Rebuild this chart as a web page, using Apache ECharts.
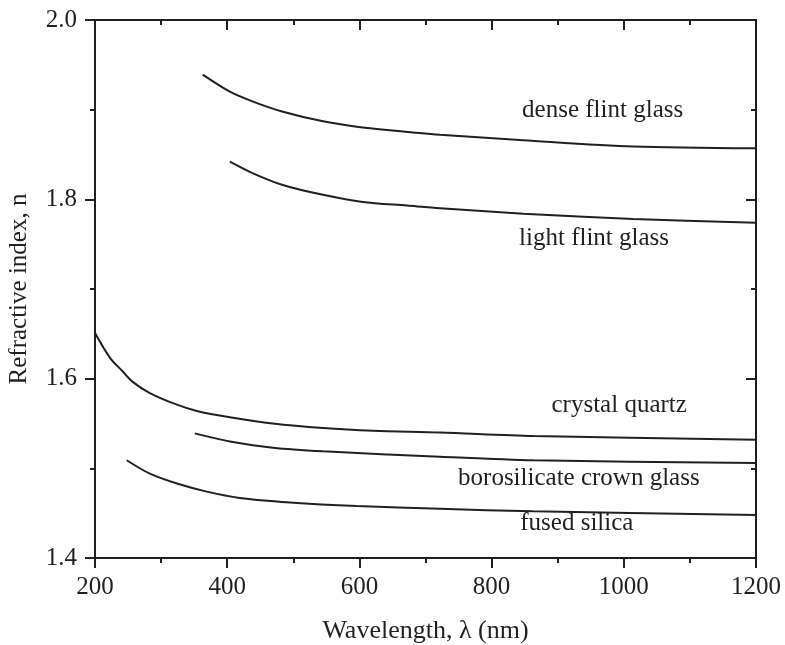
<!DOCTYPE html>
<html><head><meta charset="utf-8">
<script src="https://cdn.jsdelivr.net/npm/echarts@6/dist/echarts.min.js"></script>
<style>html,body{margin:0;padding:0;background:#fff}#c{width:785px;height:645px}</style>
</head><body><div id="c"></div>
<script>
const denseFlint = [[363,1.939],[404,1.920],[439,1.909],[483,1.898],[545,1.887],[596,1.881],[646,1.877],[722,1.872],[848,1.866],[1014,1.859],[1200,1.857]];
const lightFlint = [[404,1.842],[439,1.829],[484,1.816],[545,1.805],[605,1.797],[672,1.793],[722,1.790],[848,1.784],[1014,1.778],[1200,1.774]];
const crystalQuartz = [[200,1.651],[223,1.623],[242,1.608],[256,1.597],[283,1.584],[324,1.571],[354,1.564],[404,1.557],[469,1.550],[545,1.545],[621,1.542],[722,1.540],[863,1.536],[1200,1.532]];
const borosilicate = [[351,1.539],[404,1.530],[469,1.523],[545,1.519],[722,1.513],[863,1.509],[1200,1.506]];
const fusedSilica = [[248,1.509],[283,1.494],[324,1.483],[369,1.474],[419,1.467],[495,1.462],[596,1.458],[722,1.455],[863,1.452],[1200,1.448]];
const curveLabels = [
  {name:'dense flint glass', value:[968,1.899]},
  {name:'light flint glass', value:[955,1.756]},
  {name:'crystal quartz', value:[993,1.570]},
  {name:'borosilicate crown glass', value:[932,1.489]},
  {name:'fused silica', value:[929,1.438]}
];
const xTicks = {min:200, max:1200, interval:200};
const yTicks = {min:1.4, max:2.0, interval:0.2};

const ink = '#231f20';
const font = 'Liberation Serif';
const chart = echarts.init(document.getElementById('c'), null, {renderer:'canvas'});
function line(data){
  return {type:'line', data:data, smooth:0.3, showSymbol:false, symbol:'none',
    lineStyle:{color:ink, width:2}, xAxisIndex:0, yAxisIndex:0, silent:true, animation:false};
}
const axisLineStyle = {show:true, lineStyle:{color:ink, width:2}};
chart.setOption({
  animation:false,
  grid:{left:95, right:29, top:20, bottom:87, containLabel:false, outerBoundsMode:'none'},
  xAxis:[
    {type:'value', position:'bottom', min:xTicks.min, max:xTicks.max, interval:xTicks.interval,
     axisLine:axisLineStyle,
     axisTick:{show:true, inside:false, length:10, lineStyle:{color:ink, width:2}},
     minorTick:{show:true, splitNumber:2, length:5, lineStyle:{color:ink, width:2}},
     splitLine:{show:false},
     axisLabel:{color:ink, fontFamily:font, fontSize:25, margin:17, formatter:v=>String(v)},
     name:'Wavelength, λ (nm)', nameLocation:'middle', nameGap:60,
     nameTextStyle:{color:ink, fontFamily:font, fontSize:26}},
    {type:'value', position:'top', min:xTicks.min, max:xTicks.max, interval:xTicks.interval,
     axisLine:axisLineStyle,
     axisTick:{show:true, inside:true, length:10, lineStyle:{color:ink, width:2}},
     minorTick:{show:true, splitNumber:2, length:5, lineStyle:{color:ink, width:2}},
     splitLine:{show:false}, axisLabel:{show:false}}
  ],
  yAxis:[
    {type:'value', position:'left', min:yTicks.min, max:yTicks.max, interval:yTicks.interval,
     axisLine:axisLineStyle,
     axisTick:{show:true, inside:false, length:10, lineStyle:{color:ink, width:2}},
     minorTick:{show:true, splitNumber:2, length:5, lineStyle:{color:ink, width:2}},
     splitLine:{show:false},
     axisLabel:{color:ink, fontFamily:font, fontSize:25, margin:18, formatter:v=>v.toFixed(1)},
     name:'Refractive index, n', nameLocation:'middle', nameGap:63, nameRotate:90,
     nameTextStyle:{color:ink, fontFamily:font, fontSize:25}},
    {type:'value', position:'right', min:yTicks.min, max:yTicks.max, interval:yTicks.interval,
     axisLine:axisLineStyle,
     axisTick:{show:true, inside:true, length:10, lineStyle:{color:ink, width:2}},
     minorTick:{show:true, splitNumber:2, length:5, lineStyle:{color:ink, width:2}},
     splitLine:{show:false}, axisLabel:{show:false}}
  ],
  series:[
    line(denseFlint), line(lightFlint), line(crystalQuartz), line(borosilicate), line(fusedSilica),
    {type:'scatter', data:curveLabels, symbolSize:0, silent:true, itemStyle:{opacity:1},
     label:{show:true, position:'inside', formatter:p=>p.name, color:ink, opacity:1, fontFamily:font, fontSize:25}}
  ]
});
</script></body></html>
